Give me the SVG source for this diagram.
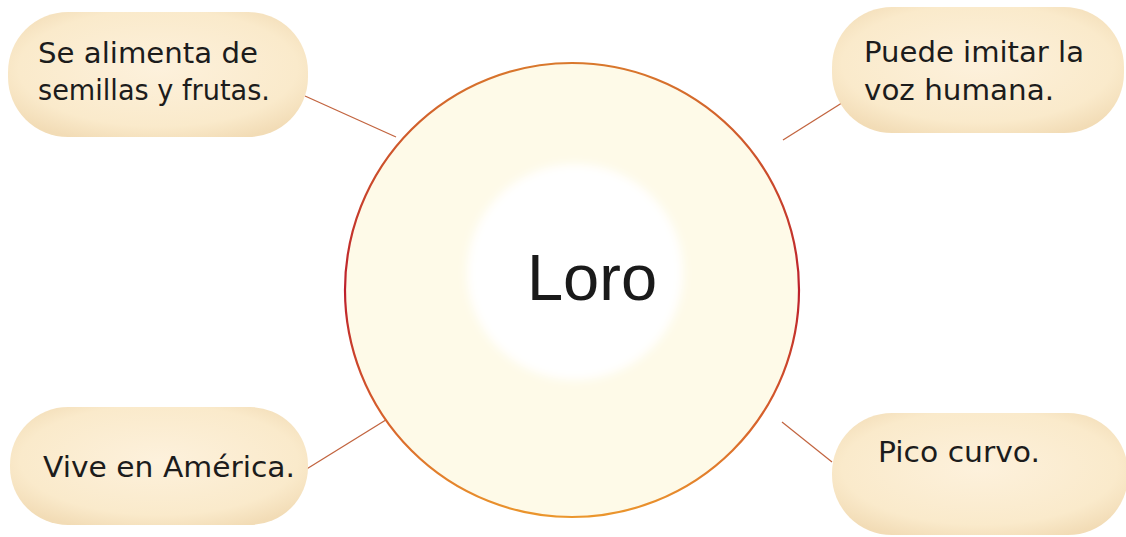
<svg xmlns="http://www.w3.org/2000/svg" width="1126" height="537" viewBox="0 0 1126 537">
  <defs>
    <radialGradient id="boxFill" cx="50%" cy="45%" r="62%">
      <stop offset="0%" stop-color="#fdf1dc"/>
      <stop offset="75%" stop-color="#faeacb"/>
      <stop offset="100%" stop-color="#f2dcb6"/>
    </radialGradient>
    <linearGradient id="ringStroke" x1="0" y1="0" x2="0" y2="1">
      <stop offset="0%" stop-color="#d9782c"/>
      <stop offset="50%" stop-color="#bd1f2b"/>
      <stop offset="100%" stop-color="#eb962c"/>
    </linearGradient>
    <filter id="soft" x="-30%" y="-30%" width="160%" height="160%">
      <feGaussianBlur stdDeviation="5"/>
    </filter>
    <style>
      .box { fill: url(#boxFill); }
      .lbl { font-family: "DejaVu Sans", "Liberation Sans", sans-serif; font-size: 28px; fill: #1c1c1c; }
      .conn line { stroke: #c2643f; stroke-width: 1.3; }
    </style>
  </defs>
  <rect width="1126" height="537" fill="#ffffff"/>

  <g id="connectors" class="conn">
    <line x1="305" y1="96" x2="396" y2="137"/>
    <line x1="845" y1="101" x2="783" y2="140"/>
    <line x1="305" y1="470" x2="389" y2="418"/>
    <line x1="782" y1="422" x2="832" y2="462"/>
  </g>

  <g id="loro">
    <circle cx="572" cy="290" r="227" fill="#fefae8" stroke="url(#ringStroke)" stroke-width="2.2"/>
    <circle cx="575" cy="272" r="108" fill="#ffffff" filter="url(#soft)"/>
    <text x="592" y="300" text-anchor="middle" font-family="'Liberation Sans', Arial, sans-serif" font-size="65" fill="#1a1a1a">Loro</text>
  </g>

  <g id="node-alimenta">
    <rect class="box" x="8" y="12" width="300" height="125" rx="60"/>
    <text class="lbl" x="38" y="63" textLength="220" lengthAdjust="spacingAndGlyphs">Se alimenta de</text>
    <text class="lbl" x="38" y="100" textLength="232" lengthAdjust="spacingAndGlyphs">semillas y frutas.</text>
  </g>

  <g id="node-voz">
    <rect class="box" x="832" y="7" width="292" height="126" rx="60"/>
    <text class="lbl" x="864" y="62" textLength="220" lengthAdjust="spacingAndGlyphs">Puede imitar la</text>
    <text class="lbl" x="864" y="100" textLength="190" lengthAdjust="spacingAndGlyphs">voz humana.</text>
  </g>

  <g id="node-america">
    <rect class="box" x="10" y="407" width="298" height="118" rx="58"/>
    <text class="lbl" x="43" y="477" textLength="252" lengthAdjust="spacingAndGlyphs">Vive en América.</text>
  </g>

  <g id="node-pico">
    <rect class="box" x="832" y="413" width="296" height="122" rx="60"/>
    <text class="lbl" x="878" y="462" textLength="162" lengthAdjust="spacingAndGlyphs">Pico curvo.</text>
  </g>
</svg>
